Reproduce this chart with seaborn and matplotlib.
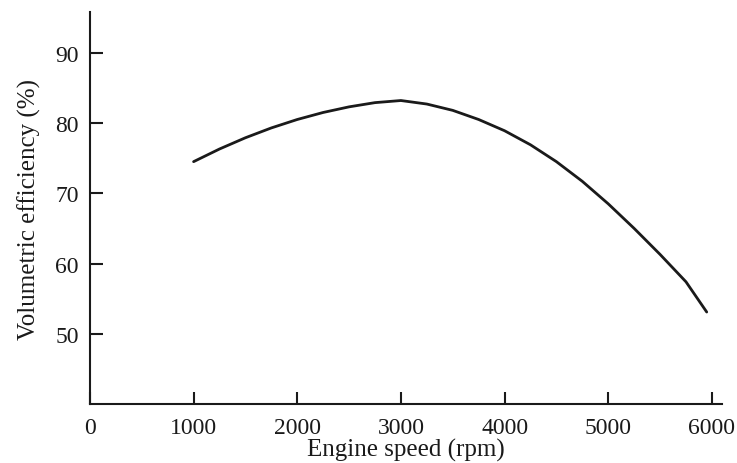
import matplotlib
matplotlib.use("Agg")
import matplotlib.pyplot as plt
import seaborn as sns
import pandas as pd

# values
engine_speed = [1000, 1250, 1500, 1750, 2000, 2250, 2500, 2750, 3000, 3250, 3500,
                3750, 4000, 4250, 4500, 4750, 5000, 5250, 5500, 5750, 5950]
vol_efficiency = [74.5, 76.3, 77.9, 79.3, 80.5, 81.5, 82.3, 82.9, 83.2, 82.7, 81.8,
                  80.5, 78.9, 76.9, 74.5, 71.7, 68.5, 65.0, 61.3, 57.4, 53.1]

x_ticks = [0, 1000, 2000, 3000, 4000, 5000, 6000]
y_ticks = [50, 60, 70, 80, 90]

INK = "#1a1a1a"

sns.set_style("ticks")
plt.rcParams["font.family"] = ["Liberation Serif", "DejaVu Serif"]

df = pd.DataFrame({"speed": engine_speed, "eff": vol_efficiency})

fig = plt.figure(figsize=(7.37, 4.64), dpi=100)
ax = fig.add_axes([0.122, 0.127, 0.858, 0.845])

sns.lineplot(data=df, x="speed", y="eff", color=INK, linewidth=2.0, ax=ax)

ax.set_xlim(0, 6100)
ax.set_ylim(40, 95.8)
ax.set_xticks(x_ticks)
ax.set_yticks(y_ticks)
ax.set_xticklabels([str(t) for t in x_ticks])
ax.set_yticklabels([str(t) for t in y_ticks])

sns.despine(ax=ax)
for side in ["left", "bottom"]:
    ax.spines[side].set_color(INK)
    ax.spines[side].set_linewidth(1.5)

ax.tick_params(axis="both", direction="in", length=9, width=1.5,
               colors=INK, labelsize=17, labelcolor=INK)
ax.tick_params(axis="x", pad=9)
ax.tick_params(axis="y", pad=8)

ax.set_xlabel("Engine speed (rpm)", fontsize=18, color=INK, labelpad=0)
ax.set_ylabel("Volumetric efficiency (%)", fontsize=18, color=INK, labelpad=10)

fig.savefig("out.png", dpi=100)
